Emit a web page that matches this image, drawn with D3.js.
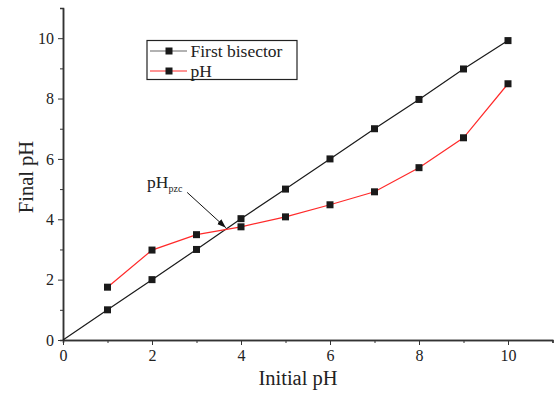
<!DOCTYPE html>
<html>
<head>
<meta charset="utf-8">
<script src="https://cdn.jsdelivr.net/npm/d3@7"></script>
<style>
  body { margin: 0; background: #fff; }
  svg { font-family: "Liberation Serif", "Times New Roman", serif; }
  .axis path, .axis line { stroke: #333; }
</style>
</head>
<body>
<script>
//W and H
var w = 556;
var h = 396;

//data
var initialPH = [1, 2, 3, 4, 5, 6, 7, 8, 9, 10];
var bisector = [1, 2, 3, 4.02, 5, 6, 7, 7.97, 8.98, 9.92];
var finalPH = [1.75, 2.98, 3.49, 3.75, 4.08, 4.48, 4.91, 5.71, 6.7, 8.49];
var majorTicks = [0, 2, 4, 6, 8, 10];
var minorTicks = [1, 3, 5, 7, 9, 11];

//bisector line starts at origin
var bisectorLine = [{x: 0, y: 0}].concat(initialPH.map(function(d, i) { return {x: d, y: bisector[i]}; }));
var phLine = initialPH.map(function(d, i) { return {x: d, y: finalPH[i]}; });

//Scales
var x = d3.scaleLinear().domain([0, 11]).range([63, 552.5]);
var y = d3.scaleLinear().domain([0, 11]).range([340, 8]);

var svg = d3.select("body").append("svg")
    .attr("width", w)
    .attr("height", h);

//arrow head
svg.append("defs").append("marker")
    .attr("id", "arrow")
    .attr("viewBox", "0 0 10 10")
    .attr("refX", 10).attr("refY", 5)
    .attr("markerWidth", 9).attr("markerHeight", 9)
    .attr("markerUnits", "userSpaceOnUse")
    .attr("orient", "auto")
    .append("path")
    .attr("d", "M0,1.5L10,5L0,8.5Z")
    .attr("fill", "#111");

//axes (minor ticks first, then major with labels)
svg.append("g")
    .attr("class", "axis")
    .attr("transform", "translate(0," + y(0) + ")")
    .call(d3.axisBottom(x).tickValues(minorTicks).tickSize(3).tickFormat(""));
svg.append("g")
    .attr("class", "axis")
    .attr("transform", "translate(0," + y(0) + ")")
    .call(d3.axisBottom(x).tickValues(majorTicks).tickSize(5).tickSizeOuter(0).tickPadding(5));

svg.append("g")
    .attr("class", "axis")
    .attr("transform", "translate(" + x(0) + ",0)")
    .call(d3.axisLeft(y).tickValues(minorTicks).tickSize(3).tickFormat(""));
svg.append("g")
    .attr("class", "axis")
    .attr("transform", "translate(" + x(0) + ",0)")
    .call(d3.axisLeft(y).tickValues(majorTicks).tickSize(5).tickSizeOuter(0).tickPadding(4));

svg.selectAll(".axis")
    .attr("font-family", "Liberation Serif, serif")
    .attr("font-size", 16);
svg.selectAll(".axis text").attr("fill", "#222");
svg.selectAll(".axis .domain").attr("stroke-width", 1.5);

//axis titles
svg.append("text")
    .attr("x", 298)
    .attr("y", 385)
    .attr("text-anchor", "middle")
    .attr("font-size", 20.5)
    .attr("fill", "#222")
    .text("Initial pH");

svg.append("text")
    .attr("transform", "translate(33,177) rotate(-90)")
    .attr("text-anchor", "middle")
    .attr("font-size", 20.5)
    .attr("fill", "#222")
    .text("Final pH");

//lines
var line = d3.line()
    .x(function(d) { return x(d.x); })
    .y(function(d) { return y(d.y); });

svg.append("path")
    .datum(bisectorLine)
    .attr("d", line)
    .attr("fill", "none")
    .attr("stroke", "#1a1a1a")
    .attr("stroke-width", 1.2);

svg.append("path")
    .datum(phLine)
    .attr("d", line)
    .attr("fill", "none")
    .attr("stroke", "#ff2a2a")
    .attr("stroke-width", 1.2);

//markers
var sq = 7;
[bisectorLine.slice(1), phLine].forEach(function(series) {
    svg.append("g").selectAll("rect")
        .data(series)
        .enter().append("rect")
        .attr("x", function(d) { return x(d.x) - sq / 2; })
        .attr("y", function(d) { return y(d.y) - sq / 2; })
        .attr("width", sq)
        .attr("height", sq)
        .attr("fill", "#1a1a1a");
});

//legend
var legend = svg.append("g");
legend.append("rect")
    .attr("x", 147).attr("y", 40.5)
    .attr("width", 150).attr("height", 39)
    .attr("fill", "#fff")
    .attr("stroke", "#222")
    .attr("stroke-width", 1.2);

var legendItems = [
    {label: "First bisector", color: "#666", y: 51},
    {label: "pH", color: "#ff2a2a", y: 71}
];
legendItems.forEach(function(d) {
    legend.append("line")
        .attr("x1", 150).attr("x2", 187)
        .attr("y1", d.y).attr("y2", d.y)
        .attr("stroke", d.color)
        .attr("stroke-width", 1.2);
    legend.append("rect")
        .attr("x", 169 - sq / 2).attr("y", d.y - sq / 2)
        .attr("width", sq).attr("height", sq)
        .attr("fill", "#1a1a1a");
    legend.append("text")
        .attr("x", 190.5).attr("y", d.y + 5.5)
        .attr("font-size", 17.5)
        .attr("fill", "#222")
        .text(d.label);
});

//pHpzc annotation
var label = svg.append("text")
    .attr("x", x(1.89))
    .attr("y", y(5.03))
    .attr("font-size", 17.5)
    .attr("fill", "#222");
label.append("tspan").text("pH");
label.append("tspan")
    .attr("font-size", 10)
    .attr("dy", 4)
    .text("pzc");

svg.append("line")
    .attr("x1", x(2.79)).attr("y1", y(4.89))
    .attr("x2", x(3.66)).attr("y2", y(3.72))
    .attr("stroke", "#111")
    .attr("stroke-width", 1)
    .attr("marker-end", "url(#arrow)");
</script>
</body>
</html>
